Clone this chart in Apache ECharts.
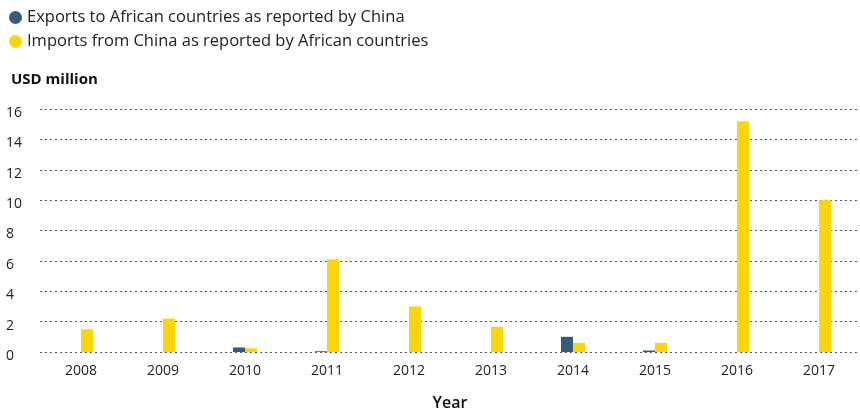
<!DOCTYPE html>
<html><head><meta charset="utf-8">
<script src="https://cdn.jsdelivr.net/npm/echarts@6/dist/echarts.min.js"></script>
<style>html,body{margin:0;padding:0;background:#fff}#c{width:860px;height:411px}</style>
</head><body><div id="c"></div>
<script>
const years = ['2008','2009','2010','2011','2012','2013','2014','2015','2016','2017'];
const exportsChina = [0, 0, 0.3, 0.05, 0, 0, 1.0, 0.1, 0, 0];
const importsAfrica = [1.5, 2.2, 0.25, 6.1, 3.0, 1.65, 0.6, 0.6, 15.2, 10.0];
const yTicks = [0, 2, 4, 6, 8, 10, 12, 14, 16];
const seriesNames = ['Exports to African countries as reported by China', 'Imports from China as reported by African countries'];

const FONT = 'Open Sans';
const chart = echarts.init(document.getElementById('c'), null, {renderer: 'canvas'});
chart.setOption({
  animation: false,
  textStyle: {fontFamily: FONT},
  legend: {
    orient: 'vertical', left: 4, top: 4, itemGap: 7,
    icon: 'circle', itemWidth: 13, itemHeight: 13,
    textStyle: {fontSize: 16.5, color: '#222', fontFamily: FONT},
    data: seriesNames
  },
  title: {
    text: 'USD million', left: 6, top: 67,
    textStyle: {fontSize: 15, fontWeight: 'bold', color: '#111', fontFamily: FONT}
  },
  grid: {left: 40, right: 0, top: 109, bottom: 59, containLabel: false, outerBoundsMode: 'none'},
  xAxis: {
    type: 'category', data: years,
    name: 'Year', nameLocation: 'middle', nameGap: 43,
    nameTextStyle: {fontSize: 16, fontWeight: 600, color: '#111', fontFamily: FONT},
    axisLine: {show: false}, axisTick: {show: false},
    axisLabel: {fontSize: 14, color: '#222', margin: 12, fontFamily: FONT}
  },
  yAxis: {
    type: 'value', min: yTicks[0], max: yTicks[yTicks.length - 1], interval: 2,
    axisLine: {show: false}, axisTick: {show: false},
    axisLabel: {fontSize: 14, color: '#222', align: 'left', margin: 34, fontFamily: FONT,
                verticalAlign: 'top', lineHeight: 8},
    splitLine: {lineStyle: {type: [2, 3], color: '#555', width: 1}}
  },
  series: [
    {name: seriesNames[0], type: 'bar', data: exportsChina, barWidth: 12, barGap: '0%',
     itemStyle: {color: '#385c78'}},
    {name: seriesNames[1], type: 'bar', data: importsAfrica, barWidth: 12,
     itemStyle: {color: '#fdd60a'}}
  ]
});
</script></body></html>
